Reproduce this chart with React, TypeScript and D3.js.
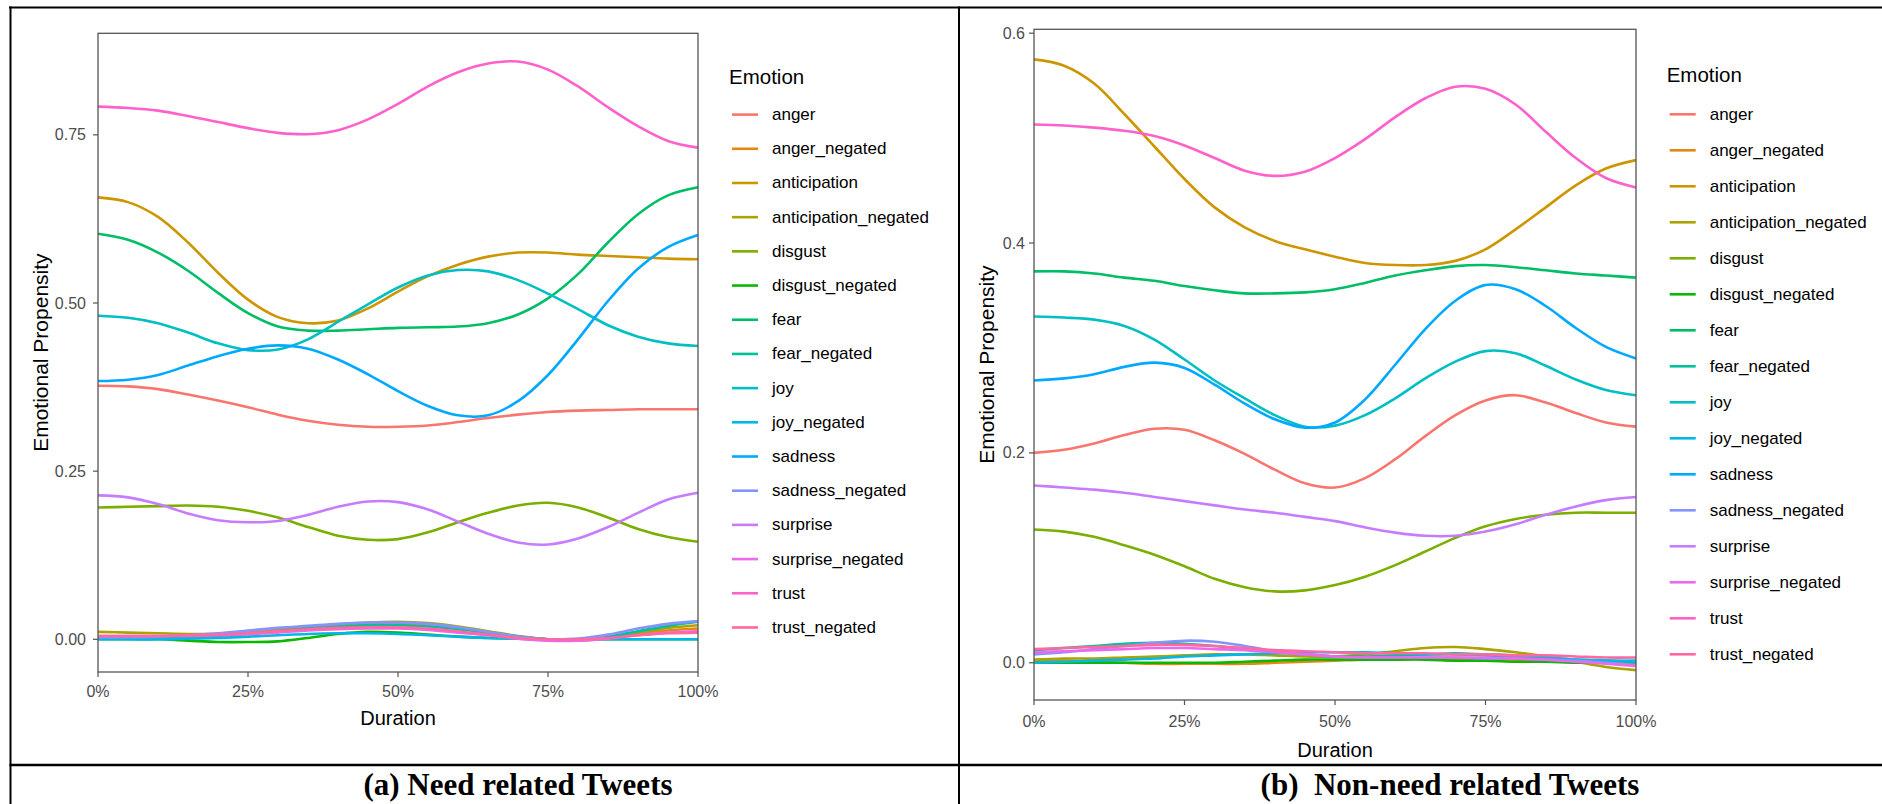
import React from 'react';
import * as d3 from 'd3';

const emotions = [
  'anger', 'anger_negated', 'anticipation', 'anticipation_negated',
  'disgust', 'disgust_negated', 'fear', 'fear_negated',
  'joy', 'joy_negated', 'sadness', 'sadness_negated',
  'surprise', 'surprise_negated', 'trust', 'trust_negated'
];

// ggplot default hue palette for 16 levels
const emotionColors = [
  '#F8766D', '#E68613', '#CD9600', '#ABA300', '#7CAE00', '#0CB702', '#00BE67', '#00C19A',
  '#00BFC4', '#00B8E7', '#00A9FF', '#8494FF', '#C77CFF', '#ED68ED', '#FF61CC', '#FF68A1'
];

// share of the tweet duration, every 5%
const durations = [0, 0.05, 0.1, 0.15, 0.2, 0.25, 0.3, 0.35, 0.4, 0.45, 0.5, 0.55, 0.6, 0.65, 0.7, 0.75, 0.8, 0.85, 0.9, 0.95, 1];

const xTicks = [0, 0.25, 0.5, 0.75, 1];
const xTickLabels = ['0%', '25%', '50%', '75%', '100%'];

const needYTicks = [0, 0.25, 0.5, 0.75];
const needYTickLabels = ['0.00', '0.25', '0.50', '0.75'];
const nonNeedYTicks = [0, 0.2, 0.4, 0.6];
const nonNeedYTickLabels = ['0.0', '0.2', '0.4', '0.6'];

// (a) need related tweets, one row per emotion (same order as emotions)
const needValues = [
  [0.377, 0.376, 0.372, 0.364, 0.355, 0.345, 0.334, 0.325, 0.319, 0.316, 0.316, 0.318, 0.323, 0.329, 0.334, 0.338, 0.340, 0.341, 0.342, 0.342, 0.342],
  [0.004, 0.004, 0.004, 0.005, 0.007, 0.010, 0.014, 0.018, 0.021, 0.023, 0.023, 0.021, 0.016, 0.010, 0.004, 0.000, 0.000, 0.003, 0.008, 0.013, 0.016],
  [0.657, 0.650, 0.628, 0.590, 0.545, 0.505, 0.479, 0.470, 0.474, 0.492, 0.517, 0.540, 0.557, 0.569, 0.575, 0.575, 0.572, 0.570, 0.568, 0.566, 0.565],
  [0.011, 0.010, 0.009, 0.008, 0.008, 0.009, 0.012, 0.017, 0.022, 0.025, 0.026, 0.024, 0.019, 0.012, 0.005, 0.000, -0.002, 0.002, 0.010, 0.017, 0.021],
  [0.196, 0.197, 0.198, 0.199, 0.197, 0.191, 0.181, 0.167, 0.154, 0.148, 0.149, 0.159, 0.174, 0.188, 0.199, 0.203, 0.196, 0.181, 0.164, 0.152, 0.145],
  [0.000, 0.000, 0.000, -0.002, -0.004, -0.004, -0.003, 0.002, 0.008, 0.011, 0.010, 0.007, 0.004, 0.002, 0.001, 0.000, 0.000, 0.000, 0.000, 0.000, 0.000],
  [0.603, 0.594, 0.575, 0.548, 0.515, 0.485, 0.465, 0.459, 0.459, 0.461, 0.463, 0.464, 0.465, 0.470, 0.483, 0.507, 0.543, 0.590, 0.632, 0.660, 0.672],
  [0.002, 0.002, 0.002, 0.003, 0.005, 0.008, 0.012, 0.016, 0.019, 0.021, 0.021, 0.019, 0.015, 0.010, 0.004, 0.000, 0.000, 0.004, 0.012, 0.020, 0.026],
  [0.481, 0.478, 0.470, 0.456, 0.440, 0.430, 0.431, 0.446, 0.472, 0.498, 0.523, 0.541, 0.549, 0.547, 0.534, 0.514, 0.491, 0.467, 0.450, 0.440, 0.436],
  [0.000, 0.000, 0.000, 0.001, 0.002, 0.004, 0.006, 0.008, 0.009, 0.009, 0.008, 0.006, 0.004, 0.002, 0.001, 0.000, 0.000, 0.000, 0.000, 0.000, 0.000],
  [0.384, 0.386, 0.393, 0.407, 0.421, 0.432, 0.437, 0.432, 0.416, 0.394, 0.369, 0.347, 0.333, 0.333, 0.354, 0.393, 0.446, 0.503, 0.551, 0.583, 0.601],
  [0.003, 0.003, 0.004, 0.006, 0.009, 0.013, 0.017, 0.020, 0.023, 0.025, 0.025, 0.023, 0.018, 0.011, 0.004, 0.000, 0.001, 0.007, 0.016, 0.023, 0.027],
  [0.214, 0.211, 0.201, 0.187, 0.177, 0.174, 0.176, 0.185, 0.197, 0.205, 0.204, 0.193, 0.175, 0.157, 0.144, 0.141, 0.150, 0.167, 0.188, 0.208, 0.218],
  [0.005, 0.005, 0.005, 0.005, 0.006, 0.008, 0.010, 0.013, 0.015, 0.016, 0.016, 0.014, 0.010, 0.006, 0.001, -0.002, -0.002, 0.001, 0.006, 0.010, 0.012],
  [0.792, 0.790, 0.786, 0.778, 0.769, 0.760, 0.753, 0.751, 0.757, 0.773, 0.796, 0.822, 0.843, 0.856, 0.859, 0.847, 0.822, 0.791, 0.763, 0.741, 0.731],
  [0.005, 0.005, 0.005, 0.006, 0.007, 0.009, 0.012, 0.015, 0.017, 0.018, 0.018, 0.016, 0.012, 0.007, 0.002, 0.000, 0.000, 0.002, 0.006, 0.009, 0.010]
];

// (b) non-need related tweets
const nonNeedValues = [
  [0.200, 0.203, 0.209, 0.217, 0.223, 0.222, 0.212, 0.199, 0.184, 0.171, 0.167, 0.176, 0.194, 0.216, 0.236, 0.250, 0.255, 0.248, 0.238, 0.229, 0.225],
  [0.002, 0.002, 0.001, 0.000, -0.001, -0.001, -0.001, -0.001, 0.000, 0.001, 0.002, 0.003, 0.003, 0.004, 0.004, 0.003, 0.003, 0.002, 0.002, 0.001, 0.001],
  [0.575, 0.569, 0.552, 0.523, 0.492, 0.461, 0.434, 0.415, 0.402, 0.394, 0.387, 0.381, 0.379, 0.379, 0.383, 0.394, 0.413, 0.434, 0.455, 0.471, 0.479],
  [0.003, 0.004, 0.004, 0.005, 0.006, 0.007, 0.008, 0.008, 0.007, 0.006, 0.006, 0.008, 0.011, 0.014, 0.015, 0.013, 0.010, 0.006, 0.001, -0.004, -0.007],
  [0.127, 0.125, 0.120, 0.112, 0.103, 0.092, 0.080, 0.072, 0.068, 0.069, 0.074, 0.082, 0.093, 0.106, 0.119, 0.130, 0.137, 0.141, 0.143, 0.143, 0.143],
  [0.000, 0.000, 0.000, 0.000, 0.000, 0.000, 0.000, 0.001, 0.002, 0.003, 0.003, 0.003, 0.003, 0.003, 0.002, 0.002, 0.001, 0.001, 0.000, 0.000, 0.000],
  [0.373, 0.373, 0.371, 0.367, 0.364, 0.359, 0.355, 0.352, 0.352, 0.353, 0.356, 0.362, 0.369, 0.374, 0.378, 0.379, 0.377, 0.374, 0.371, 0.369, 0.367],
  [0.012, 0.014, 0.016, 0.018, 0.019, 0.018, 0.016, 0.013, 0.010, 0.008, 0.006, 0.006, 0.007, 0.008, 0.009, 0.008, 0.007, 0.005, 0.003, 0.002, 0.001],
  [0.330, 0.329, 0.327, 0.321, 0.308, 0.289, 0.269, 0.252, 0.236, 0.225, 0.226, 0.236, 0.252, 0.271, 0.287, 0.297, 0.295, 0.283, 0.270, 0.260, 0.255],
  [0.000, 0.001, 0.002, 0.003, 0.004, 0.006, 0.007, 0.008, 0.009, 0.010, 0.010, 0.010, 0.009, 0.008, 0.008, 0.007, 0.006, 0.005, 0.003, 0.002, 0.002],
  [0.269, 0.271, 0.275, 0.282, 0.286, 0.281, 0.265, 0.247, 0.232, 0.224, 0.229, 0.251, 0.284, 0.318, 0.345, 0.360, 0.356, 0.340, 0.319, 0.301, 0.290],
  [0.008, 0.010, 0.013, 0.016, 0.019, 0.021, 0.020, 0.016, 0.011, 0.008, 0.006, 0.005, 0.005, 0.005, 0.005, 0.004, 0.004, 0.003, 0.002, 0.000, -0.002],
  [0.169, 0.167, 0.165, 0.162, 0.158, 0.154, 0.150, 0.146, 0.143, 0.139, 0.135, 0.129, 0.124, 0.121, 0.121, 0.125, 0.132, 0.141, 0.149, 0.155, 0.158],
  [0.010, 0.011, 0.012, 0.013, 0.014, 0.014, 0.013, 0.012, 0.010, 0.008, 0.006, 0.005, 0.005, 0.005, 0.005, 0.005, 0.004, 0.003, 0.001, -0.001, -0.003],
  [0.513, 0.512, 0.510, 0.507, 0.502, 0.493, 0.481, 0.469, 0.464, 0.468, 0.481, 0.499, 0.520, 0.538, 0.549, 0.547, 0.532, 0.506, 0.481, 0.462, 0.453],
  [0.013, 0.014, 0.015, 0.016, 0.017, 0.017, 0.016, 0.014, 0.012, 0.011, 0.010, 0.009, 0.009, 0.009, 0.008, 0.008, 0.007, 0.007, 0.006, 0.005, 0.005]
];

const SANS = '"Liberation Sans", Arial, sans-serif';
const SERIF = '"Liberation Serif", "Times New Roman", serif';

type Layout = {
  left: number; right: number; top: number; bottom: number;
  yDomain: [number, number];
  yLabelEnd: number; xLabelBase: number; xTitleBase: number; yTitleX: number;
  legendX: number; legendTitleBase: number; legendY0: number; legendStep: number;
  captionX: number; caption: string;
};

const EmotionPanel = ({ values, yTicks, yTickLabels, layout }: {
  values: number[][]; yTicks: number[]; yTickLabels: string[]; layout: Layout;
}) => {
  const L = layout;
  const x = d3.scaleLinear().domain([0, 1]).range([L.left, L.right]);
  const y = d3.scaleLinear().domain(L.yDomain).range([L.bottom, L.top]);
  const line = d3.line<number>()
    .x((_, i) => x(durations[i]))
    .y(d => y(d))
    .curve(d3.curveCatmullRom.alpha(0.5));
  const midX = (L.left + L.right) / 2;
  const midY = (L.top + L.bottom) / 2;

  return (
    <g>
      {/* series */}
      {values.map((row, i) => (
        <path key={emotions[i]} d={line(row) || ''} fill="none" stroke={emotionColors[i]} strokeWidth={2.6} />
      ))}

      {/* panel border */}
      <rect x={L.left} y={L.top} width={L.right - L.left} height={L.bottom - L.top} fill="none" stroke="#555" strokeWidth={1.3} />

      {/* y axis */}
      {yTicks.map((t, i) => (
        <g key={`y-${t}`}>
          <line x1={L.left - 5} x2={L.left} y1={y(t)} y2={y(t)} stroke="#555" strokeWidth={1.2} />
          <text x={L.yLabelEnd} y={y(t)} textAnchor="end" dominantBaseline="central"
            fill="#4D4D4D" style={{ fontSize: '16px', fontFamily: SANS }}>
            {yTickLabels[i]}
          </text>
        </g>
      ))}

      {/* x axis */}
      {xTicks.map((t, i) => (
        <g key={`x-${t}`}>
          <line x1={x(t)} x2={x(t)} y1={L.bottom} y2={L.bottom + 5} stroke="#555" strokeWidth={1.2} />
          <text x={x(t)} y={L.xLabelBase} textAnchor="middle"
            fill="#4D4D4D" style={{ fontSize: '16px', fontFamily: SANS }}>
            {xTickLabels[i]}
          </text>
        </g>
      ))}

      {/* axis titles */}
      <text x={midX} y={L.xTitleBase} textAnchor="middle" style={{ fontSize: '20px', fontFamily: SANS }}>
        Duration
      </text>
      <text transform={`translate(${L.yTitleX}, ${midY}) rotate(-90)`} textAnchor="middle" dominantBaseline="central"
        style={{ fontSize: '21px', fontFamily: SANS }}>
        Emotional Propensity
      </text>

      {/* legend */}
      <text x={L.legendX} y={L.legendTitleBase} style={{ fontSize: '20.5px', fontFamily: SANS }}>Emotion</text>
      {emotions.map((e, i) => {
        const ly = L.legendY0 + i * L.legendStep;
        return (
          <g key={`leg-${e}`}>
            <line x1={L.legendX + 3} x2={L.legendX + 29} y1={ly} y2={ly} stroke={emotionColors[i]} strokeWidth={2.6} />
            <text x={L.legendX + 43} y={ly} dominantBaseline="central" style={{ fontSize: '17px', fontFamily: SANS }}>
              {e}
            </text>
          </g>
        );
      })}

      {/* caption */}
      <text x={L.captionX} y={795} textAnchor="middle"
        style={{ fontSize: '31px', fontFamily: SERIF, fontWeight: 'bold', whiteSpace: 'pre' }}>
        {L.caption}
      </text>
    </g>
  );
};

const needLayout: Layout = {
  left: 98, right: 698, top: 33.3, bottom: 672,
  yDomain: [-0.0486, 0.901],
  yLabelEnd: 86, xLabelBase: 697, xTitleBase: 725, yTitleX: 40,
  legendX: 729, legendTitleBase: 84, legendY0: 114.6, legendStep: 34.19,
  captionX: 518, caption: '(a) Need related Tweets'
};

const nonNeedLayout: Layout = {
  left: 1034, right: 1636, top: 29.3, bottom: 700,
  yDomain: [-0.0355, 0.6037],
  yLabelEnd: 1025, xLabelBase: 727, xTitleBase: 757, yTitleX: 986,
  legendX: 1666.7, legendTitleBase: 82, legendY0: 114.3, legendStep: 36,
  captionX: 1450, caption: '(b)  Non-need related Tweets'
};

const App = () => {
  const W = 1882;
  const H = 804;
  return (
    <svg width={W} height={H} viewBox={`0 0 ${W} ${H}`}
      style={{ position: 'absolute', left: 0, top: 0, background: '#fff' }}>
      <rect x={0} y={0} width={W} height={H} fill="#fff" />

      <EmotionPanel values={needValues} yTicks={needYTicks} yTickLabels={needYTickLabels} layout={needLayout} />
      <EmotionPanel values={nonNeedValues} yTicks={nonNeedYTicks} yTickLabels={nonNeedYTickLabels} layout={nonNeedLayout} />

      {/* table rules */}
      <line x1={9} x2={W} y1={7.5} y2={7.5} stroke="#000" strokeWidth={2} />
      <line x1={10.5} x2={10.5} y1={6.5} y2={H} stroke="#000" strokeWidth={2} />
      <line x1={959} x2={959} y1={6.5} y2={H} stroke="#000" strokeWidth={2} />
      <line x1={9.5} x2={W} y1={765} y2={765} stroke="#000" strokeWidth={2.5} />
    </svg>
  );
};

export default App;
